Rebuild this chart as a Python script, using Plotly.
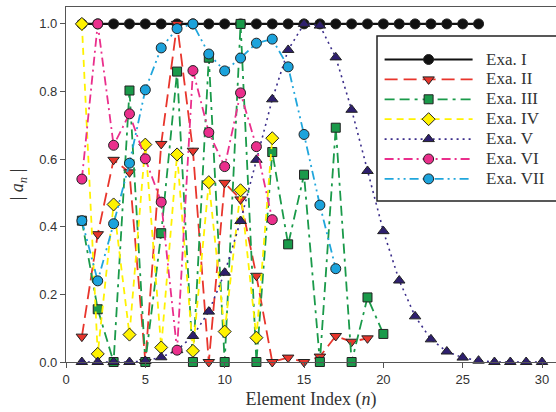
import plotly.graph_objects as go

n_I = list(range(1, 27))
exa_I = [1.0] * 26

n_II = list(range(1, 20))
exa_II = [0.075, 0.378, 0.598, 0.561, 0.0, 0.645, 1.0, 0.625, 0.0, 0.53,
          0.481, 0.255, 0.0, 0.013, 0.0, 0.016, 0.077, 0.06, 0.07]

n_III = list(range(1, 21))
exa_III = [0.418, 0.156, 0.0, 0.803, 0.0, 0.381, 0.859, 0.0, 0.90, 0.0,
           1.0, 0.0, 0.621, 0.348, 0.554, 0.0, 0.693, 0.0, 0.191, 0.083]

n_IV = list(range(1, 14))
exa_IV = [1.0, 0.024, 0.466, 0.081, 0.643, 0.043, 0.614, 0.033, 0.532, 0.09,
          0.508, 0.072, 0.662]

n_V = list(range(1, 31))
exa_V = [0.0, 0.0, 0.0, 0.0, 0.003, 0.014, 0.035, 0.077, 0.149, 0.264,
         0.417, 0.598, 0.777, 0.923, 1.0, 0.995, 0.901, 0.746, 0.565, 0.387,
         0.241, 0.135, 0.067, 0.031, 0.013, 0.004, 0.0, 0.0, 0.0, 0.0]

n_VI = list(range(1, 14))
exa_VI = [0.541, 1.0, 0.641, 0.734, 0.601, 0.473, 0.035, 0.862, 0.679, 0.578,
          0.796, 0.637, 0.421]

n_VII = list(range(1, 18))
exa_VII = [0.418, 0.240, 0.409, 0.588, 0.805, 0.929, 0.986, 1.0, 0.911, 0.861,
           0.899, 0.943, 0.955, 0.873, 0.673, 0.464, 0.276]

x_ticks = [0, 5, 10, 15, 20, 25, 30]
y_ticks = [0.0, 0.2, 0.4, 0.6, 0.8, 1.0]

series = [
    ("Exa. I", n_I, exa_I, "#111111", "solid", "circle", "#111111", 2.2),
    ("Exa. II", n_II, exa_II, "#e8352c", "13px,6px", "triangle-down", "#e8352c", 1.8),
    ("Exa. III", n_III, exa_III, "#1a9a4a", "10px,5px,10px,5px,3px,5px", "square", "#1a9a4a", 1.8),
    ("Exa. IV", n_IV, exa_IV, "#fff200", "7px,5px", "diamond", "#fff200", 1.8),
    ("Exa. V", n_V, exa_V, "#3b2d8a", "2px,4px", "triangle-up", "#2e1f6e", 1.6),
    ("Exa. VI", n_VI, exa_VI, "#ea2f8c", "9px,4px,2px,4px", "circle", "#ea2f8c", 1.8),
    ("Exa. VII", n_VII, exa_VII, "#20a6dc", "9px,4px,2px,4px,2px,4px", "circle", "#1ca3dc", 1.8),
]

NB = "\u00a0"
fig = go.Figure()
for name, xs, ys, lc, dash, sym, mc, lw in series:
    fig.add_trace(go.Scatter(
        x=xs, y=ys, name="<span style='font-size:17px'>" + NB * 2 + name + "</span>",
        mode="lines+markers",
        line=dict(color=lc, width=lw, dash=dash),
        marker=dict(symbol=sym, size=10 if sym != "square" else 9, color=mc,
                    line=dict(color="#222222", width=1)),
        cliponaxis=False,
    ))

# legend frame (extends past the right edge as in the reference)
fig.add_shape(type="rect", xref="paper", yref="paper",
              x0=0.6347, x1=1.03, y0=0.4535, y1=0.9183,
              line=dict(color="#222222", width=1.5), fillcolor="white", layer="above")

fig.update_layout(
    width=556, height=412,
    margin=dict(l=66, r=0, t=7, b=50, autoexpand=False),
    paper_bgcolor="white", plot_bgcolor="white",
    showlegend=True,
    legend=dict(
        x=0.64, y=0.683, xanchor="left", yanchor="middle",
        bgcolor="rgba(0,0,0,0)", borderwidth=0,
        font=dict(family="Liberation Serif, Times New Roman, serif", size=13, color="#333333"),
        itemwidth=88, tracegroupgap=0,
    ),
    xaxis=dict(
        range=[0, 30.88], tickvals=x_ticks, ticktext=[str(v) for v in x_ticks],
        ticks="outside", ticklen=5, tickcolor="#555555",
        showline=True, linecolor="#555555", linewidth=1.2, mirror=True,
        showgrid=False, zeroline=False,
        tickfont=dict(family="Liberation Sans, Arial, sans-serif", size=13, color="#333333"),
        title=dict(text="Element Index (<i>n</i>)", standoff=6,
                   font=dict(family="Liberation Serif, Times New Roman, serif", size=18, color="#333333")),
    ),
    yaxis=dict(
        range=[0, 1.05], tickvals=y_ticks, ticktext=[f"{v:.1f}" for v in y_ticks],
        ticks="outside", ticklen=5, tickcolor="#555555",
        showline=True, linecolor="#555555", linewidth=1.2,
        showgrid=False, zeroline=False,
        tickfont=dict(family="Liberation Sans, Arial, sans-serif", size=13, color="#333333"),
        title=dict(text="| <i>a</i><sub><i>n</i></sub> |", standoff=10,
                   font=dict(family="Liberation Serif, Times New Roman, serif", size=18, color="#333333")),
    ),
)

fig.write_html("out.html", config={"displayModeBar": False},
               post_script="document.body.style.margin='0';document.body.style.overflow='hidden';")
